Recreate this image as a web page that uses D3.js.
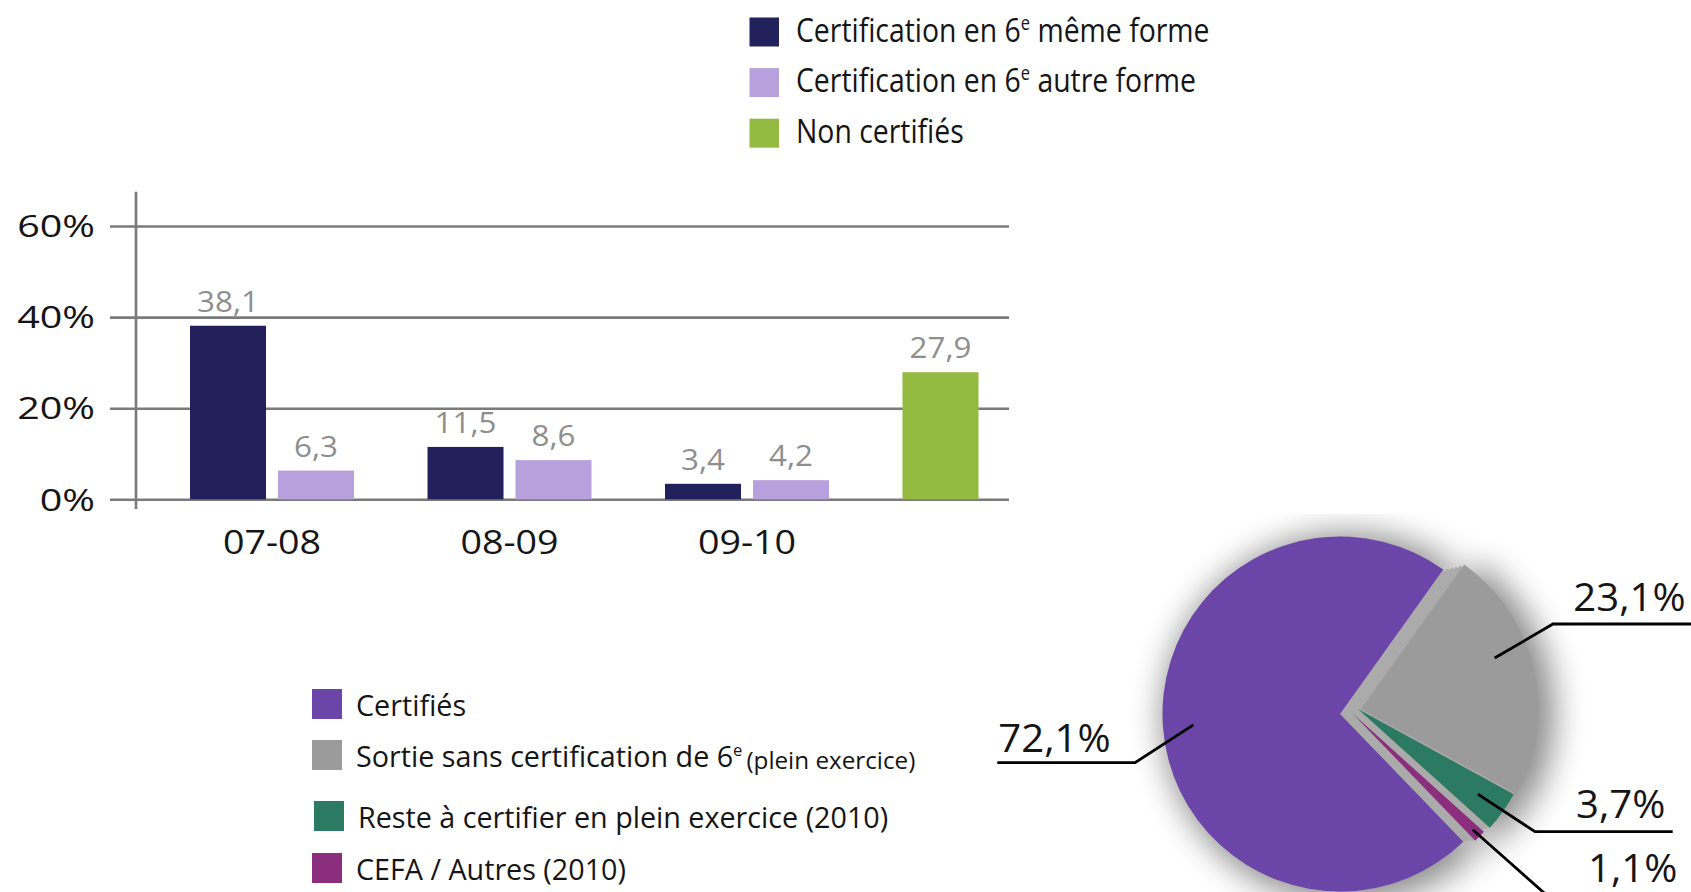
<!DOCTYPE html>
<html><head><meta charset="utf-8">
<script src="https://cdn.jsdelivr.net/npm/d3@7"></script>
<style>html,body{margin:0;padding:0;background:#fff;overflow:hidden}svg{display:block;font-family:"Open Sans",sans-serif}</style>
</head><body>
<svg id="c" width="1691" height="892"></svg>
<script>
// ---------- data ----------
const categories = ["07-08", "08-09", "09-10", ""];
const seriesNames = ["Certification en 6{e} même forme", "Certification en 6{e} autre forme", "Non certifiés"];
const memeForme = [38.1, 11.5, 3.4, null];
const autreForme = [6.3, 8.6, 4.2, null];
const nonCertifies = [null, null, null, 27.9];
const yTicks = [0, 20, 40, 60];
const pieNames = ["Certifiés", "Sortie sans certification de 6{e}|(plein exercice)", "Reste à certifier en plein exercice (2010)", "CEFA / Autres (2010)"];
const pieValues = [72.1, 23.1, 3.7, 1.1];

// ---------- styles ----------
const barColors = ["#23215b", "#b6a1dc", "#95ba42"];
const pieColors = ["#6c45a8", "#9b9b9b", "#2d7a62", "#8b2e7e"];
const sideGray = "#ababab";
const gridColor = "#7a7a7a";
const txt = "#151515";

const svg = d3.select("#c");
const frLocale = d3.formatLocale({decimal: ",", thousands: " ", grouping: [3], currency: ["", "€"]});
const f1 = frLocale.format(".1f");

function richText(sel, str, fs, smallFs) {
  const [main, small] = str.split("|");
  const parts = main.split("{e}");
  let pendingDy = 0;
  parts.forEach((p, i) => {
    if (p) { sel.append("tspan").attr("dy", pendingDy || null).text(p); pendingDy = 0; }
    if (i < parts.length - 1) {
      sel.append("tspan").attr("font-size", fs * 0.58).attr("dy", -fs * 0.36).text("e");
      pendingDy = fs * 0.36;
    }
  });
  if (small) sel.append("tspan").attr("font-size", smallFs).attr("dx", 4).attr("dy", pendingDy + 2).text(small);
}

// ---------- bar chart ----------
const y = d3.scaleLinear().domain([0, 60]).range([499.3, 226]);
const x0 = d3.scaleBand().domain(categories).range([142.5, 1114]).paddingInner(0.3095).paddingOuter(0.2);
const x1 = d3.scaleBand().domain([0, 1]).range([0, x0.bandwidth()]).paddingInner(0.136);

const gridLeft = 110, gridRight = 1009;
const yAxis = svg.append("g").attr("transform", `translate(${gridLeft},0)`)
  .call(d3.axisLeft(y).tickValues(yTicks).tickSize(-(gridRight - gridLeft)).tickFormat(d => d + "%"));
yAxis.select(".domain").remove();
yAxis.selectAll(".tick line").attr("stroke", gridColor).attr("stroke-width", 2.6);
yAxis.selectAll(".tick text")
  .attr("x", null).attr("dy", null)
  .attr("transform", "translate(-15,10.7) scale(1.3,1)")
  .attr("font-size", 30.4).attr("fill", txt).attr("font-family", "Open Sans").attr("text-anchor", "end");

svg.append("line").attr("x1", 136).attr("x2", 136).attr("y1", 191.7).attr("y2", 509)
  .attr("stroke", gridColor).attr("stroke-width", 2.6);

const xAxis = svg.append("g").attr("transform", `translate(0,${y(0)})`)
  .call(d3.axisBottom(x0).tickSize(0));
xAxis.select(".domain").remove();
xAxis.selectAll(".tick text")
  .attr("y", null).attr("dy", null)
  .attr("transform", "translate(0,54.7) scale(1.12,1)")
  .attr("font-size", 33.6).attr("fill", txt).attr("font-family", "Open Sans");

const seriesDefs = [
  {vals: memeForme, slot: 0, color: barColors[0]},
  {vals: autreForme, slot: 1, color: barColors[1]},
  {vals: nonCertifies, slot: 0, color: barColors[2]}
];
const bars = [];
seriesDefs.forEach(s => s.vals.forEach((v, i) => {
  if (v != null) bars.push({cat: categories[i], v, slot: s.slot, color: s.color});
}));

svg.append("g").selectAll("rect").data(bars).join("rect")
  .attr("x", d => x0(d.cat) + x1(d.slot))
  .attr("y", d => y(d.v))
  .attr("width", x1.bandwidth())
  .attr("height", d => y(0) - y(d.v))
  .attr("fill", d => d.color);

svg.append("g").selectAll("text").data(bars).join("text")
  .attr("transform", d => `translate(${x0(d.cat) + x1(d.slot) + x1.bandwidth() / 2},${y(d.v) - 14}) scale(1.08,1)`)
  .attr("text-anchor", "middle").attr("font-size", 29).attr("fill", "#8e8e8e")
  .text(d => f1(d.v));

// top legend
const legTop = svg.append("g");
seriesNames.forEach((n, i) => {
  legTop.append("rect").attr("x", 749.5).attr("y", 17.5 + i * 50.6).attr("width", 29.5).attr("height", 29)
    .attr("fill", barColors[i]);
  const t = legTop.append("text")
    .attr("transform", `translate(796,${41.5 + i * 50.6}) scale(0.86,1)`)
    .attr("font-size", 33).attr("fill", txt);
  richText(t, n, 33, 28);
});

// ---------- pie ----------
const pc = [1340, 714];
const R = 177.5;
const a0 = 136 * Math.PI / 180;
const pie = d3.pie().sort(null).value(d => d).startAngle(a0).endAngle(a0 + 2 * Math.PI);
const arcs = pie(pieValues);
const arc = d3.arc().innerRadius(0).outerRadius(R);
const shadowArc = d3.arc().innerRadius(0).outerRadius(R + 8);
const sliceShift = [[0, 0], [21, -5], [18, -5], [12, -1]];

const defs = svg.append("defs");
defs.append("filter").attr("id", "blur").attr("x", "-40%").attr("y", "-40%").attr("width", "180%").attr("height", "180%")
  .append("feGaussianBlur").attr("stdDeviation", 16);
defs.append("clipPath").attr("id", "shclip").append("rect")
  .attr("x", 1090).attr("y", 514).attr("width", 620).attr("height", 400);

const sh = svg.append("g").attr("clip-path", "url(#shclip)")
  .append("g").attr("filter", "url(#blur)").attr("opacity", 0.45);
arcs.forEach((a, i) => {
  sh.append("path").attr("d", shadowArc(a))
    .attr("transform", `translate(${pc[0] + sliceShift[i][0] + 8},${pc[1] + sliceShift[i][1] + 4})`)
    .attr("fill", "#000");
});

const side = svg.append("g");
arcs.forEach((a, i) => {
  if (i === 0) return;
  [0, 0.2, 0.4, 0.6, 0.8].forEach(t => {
    side.append("path").attr("d", arc(a))
      .attr("transform", `translate(${pc[0] + sliceShift[i][0] * t},${pc[1] + sliceShift[i][1] * t})`)
      .attr("fill", sideGray);
  });
});

svg.append("g").selectAll("path").data(arcs).join("path")
  .attr("d", arc)
  .attr("transform", (d, i) => `translate(${pc[0] + sliceShift[i][0]},${pc[1] + sliceShift[i][1]})`)
  .attr("fill", (d, i) => pieColors[i]);

const labelR = [147, 143, 147, 168];
const labelNudge = [0, -8, 0, 0];
const labelLayout = [
  {elbow: [1135, 762.7], endX: 997.3, text: [998.3, 751.7]},
  {elbow: [1553, 624], endX: 1700, text: [1573.3, 610.7]},
  {elbow: [1535, 831.7], endX: 1672.7, text: [1576, 818.3]},
  {elbow: [1560, 907], endX: 1700, text: [1588, 881.7]}
];
const lg = svg.append("g");
arcs.forEach((a, i) => {
  const mid = (a.startAngle + a.endAngle) / 2 + labelNudge[i] * Math.PI / 180;
  const sx = pc[0] + sliceShift[i][0] + labelR[i] * Math.sin(mid);
  const sy = pc[1] + sliceShift[i][1] - labelR[i] * Math.cos(mid);
  const L = labelLayout[i];
  lg.append("path")
    .attr("d", d3.line()([[sx, sy], L.elbow, [L.endX, L.elbow[1]]]))
    .attr("fill", "none").attr("stroke", "#000").attr("stroke-width", 2.8);
  lg.append("text")
    .attr("transform", `translate(${L.text[0]},${L.text[1]}) scale(1.07,1)`)
    .attr("font-size", 37.5).attr("fill", txt)
    .text(f1(a.data) + "%");
});

// bottom legend
const rowY = [689, 740, 801, 853];
const rowX = [312, 312, 314, 312];
const legB = svg.append("g");
pieNames.forEach((n, i) => {
  legB.append("rect").attr("x", rowX[i]).attr("y", rowY[i]).attr("width", 30).attr("height", 30)
    .attr("fill", pieColors[i]);
  const t = legB.append("text")
    .attr("transform", `translate(${rowX[i] + 44},${rowY[i] + 26.5}) scale(0.99,1)`)
    .attr("font-size", 29).attr("fill", txt);
  richText(t, n, 29, 24.5);
});
</script>
</body></html>
